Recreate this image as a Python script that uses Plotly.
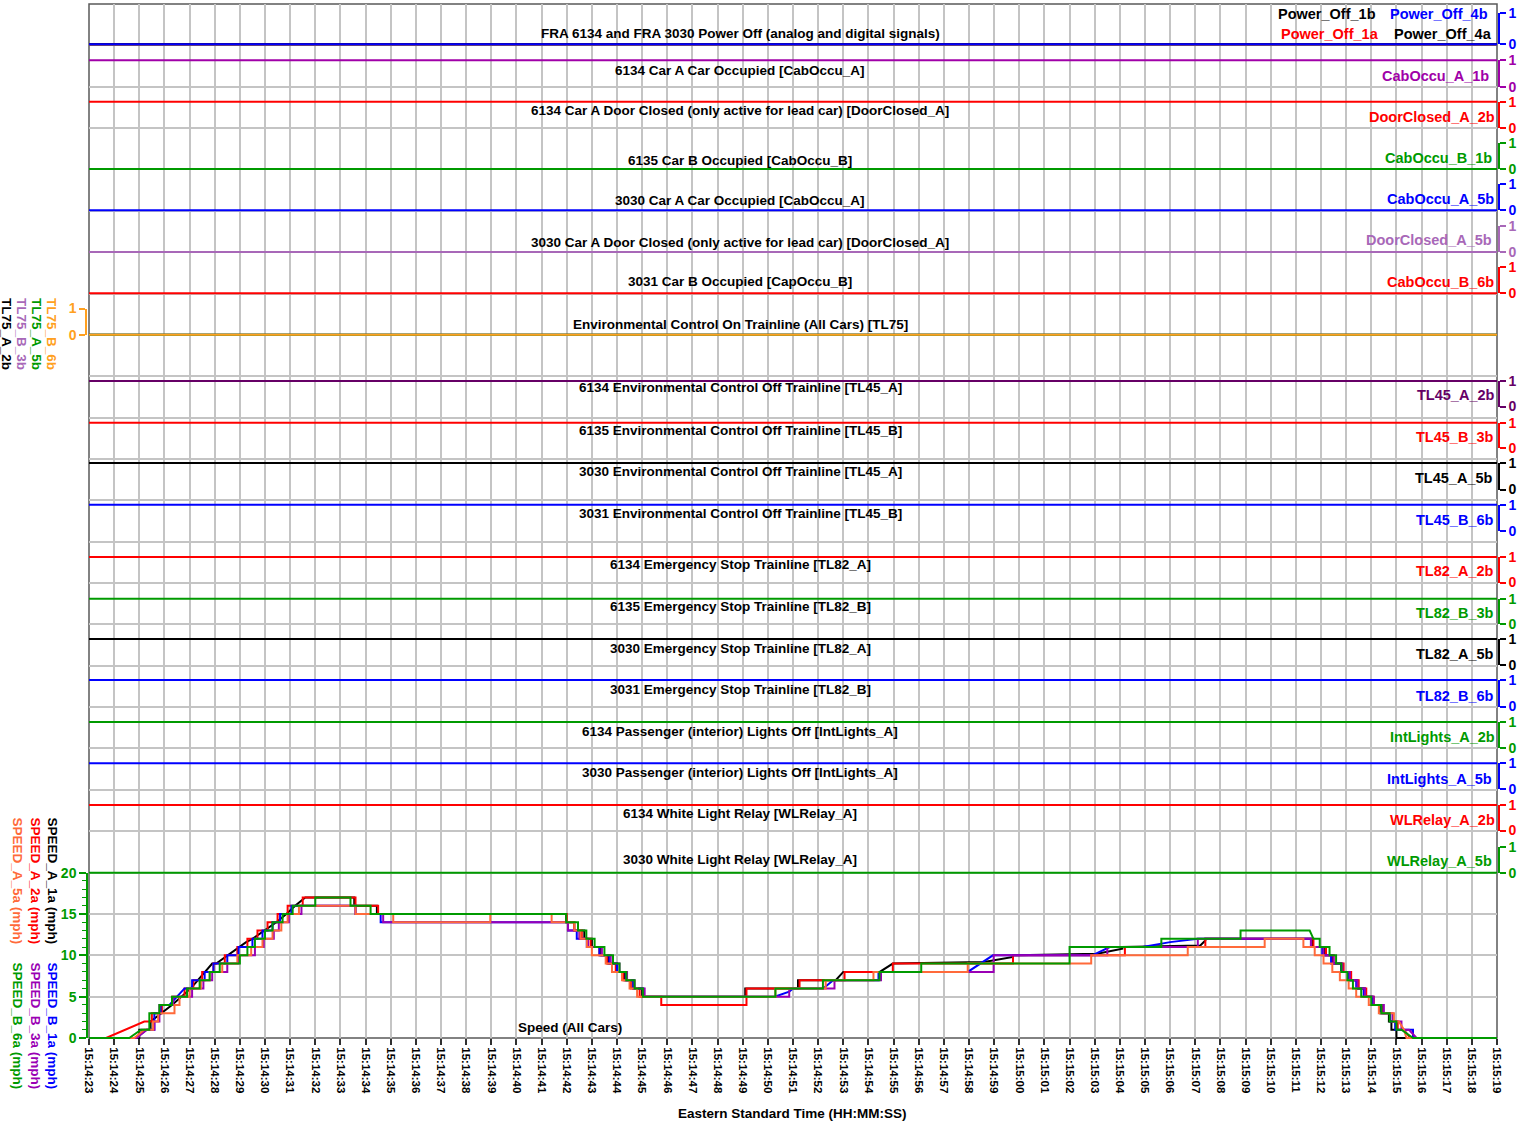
import pandas as pd
import plotly.graph_objects as go

# ---------------------------------------------------------------- time base
T_START = "2000-01-01 15:14:23"
WINDOW_S = [0, 56]  # 15:14:23 .. 15:15:19

# ---------------------------------------------------------- digital strips
strip_titles = [
    "FRA 6134 and FRA 3030 Power Off (analog and digital signals)",
    "6134 Car A Car Occupied [CabOccu_A]",
    "6134 Car A Door Closed (only active for lead car) [DoorClosed_A]",
    "6135 Car B Occupied [CabOccu_B]",
    "3030 Car A Car Occupied [CabOccu_A]",
    "3030 Car A Door Closed (only active for lead car) [DoorClosed_A]",
    "3031 Car B Occupied [CapOccu_B]",
    "Environmental Control On Trainline (All Cars) [TL75]",
    "6134 Environmental Control Off Trainline [TL45_A]",
    "6135 Environmental Control Off Trainline [TL45_B]",
    "3030 Environmental Control Off Trainline [TL45_A]",
    "3031 Environmental Control Off Trainline [TL45_B]",
    "6134 Emergency Stop Trainline [TL82_A]",
    "6135 Emergency Stop Trainline [TL82_B]",
    "3030 Emergency Stop Trainline [TL82_A]",
    "3031 Emergency Stop Trainline [TL82_B]",
    "6134 Passenger (interior) Lights Off [IntLights_A]",
    "3030 Passenger (interior) Lights Off [IntLights_A]",
    "6134 White Light Relay [WLRelay_A]",
    "3030 White Light Relay [WLRelay_A]",
]

strip_signals = [
    ["Power_Off_1b", "Power_Off_1a", "Power_Off_4a", "Power_Off_4b"],
    ["CabOccu_A_1b"],
    ["DoorClosed_A_2b"],
    ["CabOccu_B_1b"],
    ["CabOccu_A_5b"],
    ["DoorClosed_A_5b"],
    ["CabOccu_B_6b"],
    ["TL75_A_2b", "TL75_B_3b", "TL75_A_5b", "TL75_B_6b"],
    ["TL45_A_2b"],
    ["TL45_B_3b"],
    ["TL45_A_5b"],
    ["TL45_B_6b"],
    ["TL82_A_2b"],
    ["TL82_B_3b"],
    ["TL82_A_5b"],
    ["TL82_B_6b"],
    ["IntLights_A_2b"],
    ["IntLights_A_5b"],
    ["WLRelay_A_2b"],
    ["WLRelay_A_5b"],
]

strip_states = [
    [0, 0, 0, 0], [1], [1], [0], [0], [0], [0], [0, 0, 0, 0],
    [1], [1], [1], [1], [1], [1], [1], [1], [1], [1], [1], [0],
]

# ------------------------------------------------------- speed (seconds, mph)
speed_A_1a = [
    (0, 0), (2.0, 0), (2.0, 1), (2.45, 1), (2.45, 2), (2.9, 3), (3.3, 4), (4.05, 6),
    (4.9, 9), (5.06, 9), (6.25, 11.6), (6.5, 12), (7.45, 14), (7.85, 15), (8.2, 16),
    (8.6, 17), (10.55, 17), (10.55, 16), (11.45, 16), (11.45, 15), (18.98, 15),
    (18.98, 14), (19.3, 14), (19.3, 13), (19.7, 13), (19.7, 12), (20.0, 12), (20.0, 11),
    (20.35, 11), (20.35, 10), (20.65, 10), (20.65, 9), (21.0, 9), (21.0, 8), (21.3, 8),
    (21.3, 7), (21.65, 7), (21.65, 6), (22.0, 6), (22.0, 5), (26.1, 5), (26.1, 6),
    (28.2, 6), (28.2, 7), (29.7, 7), (30.0, 8), (31.45, 8), (31.97, 9), (35.6, 9.2),
    (36.75, 9.8), (36.75, 10), (40.1, 10.2), (41.1, 10.8), (41.1, 11), (44.2, 11.2),
    (44.4, 11.8), (44.4, 12), (48.65, 12), (48.65, 11), (49.15, 11), (49.15, 10),
    (49.45, 10), (49.45, 9), (49.8, 9), (49.8, 8), (50.15, 8), (50.15, 7), (50.45, 7),
    (50.45, 6), (50.75, 6), (50.75, 5), (51.05, 5), (51.05, 4), (51.35, 4), (51.35, 3),
    (51.7, 3), (51.7, 2), (51.8, 2), (51.8, 1), (52.0, 1), (52.0, 0), (56, 0),
]

speed_A_2a = [
    (0, 0), (0.68, 0), (2.2, 2), (2.5, 2), (2.5, 3), (2.9, 3), (2.9, 4), (3.3, 4),
    (3.3, 5), (3.8, 5), (3.8, 6), (4.15, 6), (4.15, 7), (4.5, 7), (4.5, 8), (4.95, 8),
    (4.95, 9), (5.4, 9), (5.4, 10), (5.9, 10), (5.9, 11), (6.3, 11), (6.3, 12), (6.7, 12),
    (6.7, 13), (7.1, 13), (7.1, 14), (7.5, 14), (7.5, 15), (7.9, 15), (7.9, 16), (8.5, 16),
    (8.5, 17), (10.6, 17), (10.6, 16), (11.5, 16), (11.5, 15), (19.0, 15), (19.0, 14),
    (19.3, 14), (19.3, 13), (19.6, 13), (19.6, 12), (19.95, 12), (19.95, 11), (20.3, 11),
    (20.3, 10), (20.6, 10), (20.6, 9), (20.95, 9), (20.95, 8), (21.25, 8), (21.25, 7),
    (21.55, 7), (21.55, 6), (21.9, 6), (21.9, 5), (22.76, 5), (22.76, 4), (26.15, 4),
    (26.15, 6), (28.26, 6), (28.26, 7), (30.05, 7), (30.05, 8), (31.97, 8), (31.97, 9),
    (36.75, 9), (36.75, 10), (41.2, 10), (41.2, 11), (44.4, 11), (44.4, 12), (48.7, 12),
    (48.7, 11), (49.2, 11), (49.2, 10), (49.5, 10), (49.5, 9), (49.9, 9), (49.9, 8),
    (50.2, 8), (50.2, 7), (50.5, 7), (50.5, 6), (50.8, 6), (50.8, 5), (51.1, 5), (51.1, 4),
    (51.45, 4), (51.45, 3), (51.75, 3), (51.75, 2), (52.05, 2), (52.05, 1), (52.3, 1),
    (52.55, 0), (56, 0),
]

speed_A_5a = [
    (0, 0), (1.8, 0), (2.2, 1), (2.55, 1), (2.55, 2), (2.75, 2), (2.75, 3), (3.4, 3),
    (3.4, 4), (3.6, 4), (3.6, 5), (4.0, 5), (4.0, 6), (4.45, 6), (4.45, 7), (4.8, 7),
    (4.8, 8), (5.3, 8), (5.3, 9), (5.9, 9), (5.9, 10), (6.45, 10), (6.45, 11), (6.9, 11),
    (6.9, 12), (7.3, 12), (7.3, 13), (7.65, 13), (7.65, 14), (7.9, 14), (7.9, 15),
    (8.35, 15), (8.35, 16), (10.6, 16), (10.6, 15), (12.1, 15), (12.1, 14), (15.96, 14),
    (15.96, 15), (18.4, 15), (18.4, 14), (19.3, 14), (19.3, 13), (19.55, 13), (19.55, 12),
    (19.8, 12), (19.8, 11), (20.0, 11), (20.0, 10), (20.55, 10), (20.55, 9), (20.8, 9),
    (20.8, 8), (21.2, 8), (21.2, 7), (21.5, 7), (21.5, 6), (21.8, 6), (21.8, 5), (27.3, 5),
    (27.3, 6), (29.3, 6), (29.3, 7), (31.2, 7), (31.2, 8), (34.95, 8), (34.95, 9),
    (39.86, 9), (39.86, 10), (43.7, 10), (43.7, 11), (46.76, 11), (46.76, 12), (48.3, 12),
    (48.3, 11), (48.75, 11), (48.75, 10), (49.1, 10), (49.1, 9), (49.45, 9), (49.45, 8),
    (49.75, 8), (49.75, 7), (50.1, 7), (50.1, 6), (50.4, 6), (50.4, 5), (50.9, 5),
    (50.9, 4), (51.3, 4), (51.3, 3), (51.9, 3), (51.9, 2), (52.1, 2), (52.3, 1),
    (52.4, 0), (56, 0),
]

speed_B_1a = [
    (0, 0), (1.85, 0), (2.3, 1), (2.6, 1), (2.6, 3), (2.85, 3), (2.85, 4), (3.2, 4),
    (3.5, 5), (3.8, 6), (4.1, 6), (4.1, 7), (4.6, 7), (4.6, 8), (4.95, 8), (4.95, 9),
    (5.5, 9), (5.5, 10), (5.95, 10), (5.95, 11), (6.5, 11), (6.5, 12), (6.9, 12),
    (6.9, 13), (7.3, 13), (7.3, 14), (7.6, 14), (7.6, 15), (8.05, 15), (8.05, 16),
    (10.6, 16), (10.6, 15), (11.6, 15), (11.6, 14), (19.05, 14), (19.05, 13), (19.4, 13),
    (19.4, 12), (19.8, 12), (19.8, 11), (20.3, 11), (20.3, 10), (20.7, 10), (20.7, 9),
    (21.0, 9), (21.0, 8), (21.35, 8), (21.35, 7), (21.65, 7), (21.65, 6), (22.05, 6),
    (22.05, 5), (27.27, 5), (27.85, 5.6), (28.0, 6), (29.2, 6), (29.6, 7), (31.4, 7),
    (31.4, 8), (34.95, 8), (35.95, 10), (39.9, 10), (40.6, 11), (41.9, 11), (43.0, 11.6),
    (44.1, 12), (48.6, 12), (48.6, 11), (49.05, 11), (49.05, 10), (49.4, 10), (49.4, 9),
    (49.8, 9), (49.8, 8), (50.1, 8), (50.1, 7), (50.4, 7), (50.4, 6), (50.7, 6),
    (50.7, 5), (51.05, 5), (51.05, 4), (51.4, 4), (51.4, 3), (51.75, 3), (51.75, 2),
    (51.95, 2), (51.95, 1), (52.66, 1), (52.66, 0), (56, 0),
]

speed_B_3a = [
    (0, 0), (1.9, 0), (2.3, 1), (2.6, 1), (2.6, 2), (2.8, 2), (2.8, 4), (3.35, 4),
    (3.35, 5), (4.1, 5), (4.1, 6), (4.55, 6), (4.55, 7), (4.9, 7), (4.9, 8), (5.5, 8),
    (5.5, 9), (5.95, 9), (5.95, 10), (6.6, 10), (6.6, 11), (6.95, 11), (6.95, 12),
    (7.35, 12), (7.35, 13), (7.55, 13), (7.55, 14), (7.95, 14), (7.95, 15), (8.45, 15),
    (8.45, 16), (10.6, 16), (10.6, 15), (11.7, 15), (11.7, 14), (19.05, 14), (19.05, 13),
    (19.5, 13), (19.5, 12), (19.85, 12), (19.85, 11), (20.4, 11), (20.4, 10), (20.75, 10),
    (20.75, 9), (21.1, 9), (21.1, 8), (21.4, 8), (21.4, 7), (21.7, 7), (21.7, 6),
    (22.1, 6), (22.1, 5), (27.85, 5), (27.85, 6), (29.65, 6), (29.65, 7), (31.5, 7),
    (31.5, 8), (35.98, 8), (35.98, 10), (40.5, 10), (40.5, 11),
    (44.1, 11), (44.1, 12), (48.6, 12), (48.6, 11), (49.1, 11), (49.1, 10), (49.5, 10),
    (49.5, 9), (49.85, 9), (49.85, 8), (50.15, 8), (50.15, 7), (50.45, 7), (50.45, 6),
    (50.75, 6), (50.75, 5), (51.1, 5), (51.1, 4), (51.5, 4), (51.5, 3), (51.85, 3),
    (51.85, 2), (52.2, 2), (52.2, 1), (52.5, 1), (52.8, 0), (56, 0),
]

speed_B_6a = [
    (0, 0), (1.6, 0), (2.07, 1), (2.4, 1), (2.4, 3), (2.8, 3), (2.8, 4), (3.3, 4),
    (3.3, 5), (3.9, 5), (3.9, 6), (4.4, 6), (4.4, 7), (4.8, 7), (4.8, 8), (5.2, 8),
    (5.2, 9), (6.0, 9), (6.0, 10), (6.3, 10), (6.3, 11), (6.6, 11), (6.6, 12), (7.0, 12),
    (7.0, 13), (7.3, 13), (7.3, 14), (7.7, 14), (7.7, 15), (8.1, 15), (8.1, 16), (9.0, 16),
    (9.0, 17), (10.4, 17), (10.4, 16), (11.2, 16), (11.2, 15), (18.98, 15), (18.98, 14),
    (19.45, 14), (19.45, 13), (19.78, 13), (19.78, 12), (20.11, 12), (20.11, 11),
    (20.5, 11), (20.5, 10), (20.84, 10), (20.84, 9), (21.1, 9), (21.1, 8), (21.37, 8),
    (21.37, 7), (21.7, 7), (21.7, 6), (22.03, 6), (22.03, 5), (27.3, 5), (27.3, 6),
    (29.19, 6), (29.19, 7), (31.44, 7), (31.44, 8), (33.1, 8), (33.1, 9), (39.0, 9),
    (39.0, 11), (42.65, 11), (42.65, 12), (45.8, 12), (45.8, 13), (48.55, 13), (48.7, 12),
    (48.95, 12), (48.95, 11), (49.34, 11), (49.34, 10), (49.6, 10), (49.6, 9), (49.81, 9),
    (49.81, 8), (50.05, 8), (50.05, 7), (50.27, 7), (50.27, 6), (50.6, 6), (50.6, 5),
    (51.0, 5), (51.0, 4), (51.4, 4), (51.4, 3), (51.73, 3), (51.73, 2), (52.0, 2),
    (52.0, 1), (52.2, 1), (52.66, 0), (56, 0),
]

# drawing order, bottom to top
speed_names = ["SPEED_A_1a (mph)", "SPEED_A_2a (mph)", "SPEED_B_1a (mph)",
               "SPEED_B_3a (mph)", "SPEED_A_5a (mph)", "SPEED_B_6a (mph)"]
speed_series = [speed_A_1a, speed_A_2a, speed_B_1a, speed_B_3a, speed_A_5a, speed_B_6a]

# ------------------------------------------------------------------ styling
FONT = "Arial, 'Liberation Sans', sans-serif"
GRID = "#c4c4c4"
FRAME = "#5a5a5a"
BLACK, RED, BLUE = "#000000", "#ff0000", "#0000ff"
GREEN, PURPLE, LPURPLE = "#009a00", "#a000a8", "#a868b8"
DPURPLE, ORANGE, CORAL, SPURPLE = "#660066", "#ffa020", "#ff6a3a", "#9a00b4"

signal_colors = {
    "Power_Off_1b": BLACK, "Power_Off_1a": RED, "Power_Off_4a": BLACK,
    "Power_Off_4b": BLUE, "CabOccu_A_1b": PURPLE, "DoorClosed_A_2b": RED,
    "CabOccu_B_1b": GREEN, "CabOccu_A_5b": BLUE, "DoorClosed_A_5b": LPURPLE,
    "CabOccu_B_6b": RED, "TL75_A_2b": BLACK, "TL75_B_3b": LPURPLE,
    "TL75_A_5b": GREEN, "TL75_B_6b": ORANGE, "TL45_A_2b": DPURPLE,
    "TL45_B_3b": RED, "TL45_A_5b": BLACK, "TL45_B_6b": BLUE, "TL82_A_2b": RED,
    "TL82_B_3b": GREEN, "TL82_A_5b": BLACK, "TL82_B_6b": BLUE,
    "IntLights_A_2b": GREEN, "IntLights_A_5b": BLUE, "WLRelay_A_2b": RED,
    "WLRelay_A_5b": GREEN,
}
strip_axis_colors = [BLUE, PURPLE, RED, GREEN, BLUE, LPURPLE, RED, ORANGE,
                     DPURPLE, RED, BLACK, BLUE, RED, GREEN, BLACK, BLUE,
                     GREEN, BLUE, RED, GREEN]
speed_colors = {
    "SPEED_A_1a (mph)": BLACK, "SPEED_A_2a (mph)": RED, "SPEED_A_5a (mph)": CORAL,
    "SPEED_B_1a (mph)": BLUE, "SPEED_B_3a (mph)": SPURPLE, "SPEED_B_6a (mph)": GREEN,
}

# page geometry (pixels)
W, H = 1522, 1121
ML, MR, MT, MB = 89, 25, 0, 76
PW, PH = W - ML - MR, H - MT - MB
GRID_TOP, GRID_BOTTOM = 4, 1038

# pixel rows of value 0 / value 1 for every strip
strip_rows = [
    (44.3, 13.0), (86.7, 60.3), (128.1, 101.7), (169.0, 143.0), (210.3, 184.0),
    (252.0, 226.0), (293.3, 267.0), (334.7, 308.5), (406.5, 381.0), (448.0, 422.7),
    (489.5, 463.0), (531.0, 504.7), (582.5, 557.0), (624.0, 598.7), (665.0, 639.0),
    (706.5, 680.0), (748.0, 722.0), (789.0, 763.3), (830.5, 805.0), (872.7, 847.0),
]
title_rows = [34, 70, 110, 160, 201, 242, 281, 325, 387, 430, 471, 513, 564, 606,
              648, 689, 731, 772, 813, 859]
TITLE_X = 740

# right-hand channel names: (right edge px, centre y px)
right_labels = {
    "Power_Off_1b": (1378, 14), "Power_Off_4b": (1490, 14),
    "Power_Off_1a": (1381, 34), "Power_Off_4a": (1494, 34),
    "CabOccu_A_1b": (1491, 76), "DoorClosed_A_2b": (1497, 117),
    "CabOccu_B_1b": (1494, 158), "CabOccu_A_5b": (1496, 199),
    "DoorClosed_A_5b": (1494, 240), "CabOccu_B_6b": (1496, 282),
    "TL45_A_2b": (1497, 395), "TL45_B_3b": (1496, 437), "TL45_A_5b": (1495, 478),
    "TL45_B_6b": (1496, 520), "TL82_A_2b": (1496, 571), "TL82_B_3b": (1496, 613),
    "TL82_A_5b": (1496, 654), "TL82_B_6b": (1496, 696),
    "IntLights_A_2b": (1497, 737), "IntLights_A_5b": (1494, 779),
    "WLRelay_A_2b": (1497, 820), "WLRelay_A_5b": (1494, 861),
}
# left-hand vertical names: (centre x px, top y px)
left_labels = {
    "TL75_A_2b": (7, 296), "TL75_B_3b": (22, 296), "TL75_A_5b": (37, 296),
    "TL75_B_6b": (52, 296),
    "SPEED_A_5a (mph)": (17, 815), "SPEED_A_2a (mph)": (35, 815),
    "SPEED_A_1a (mph)": (52, 815),
    "SPEED_B_6a (mph)": (17, 960), "SPEED_B_3a (mph)": (35, 960),
    "SPEED_B_1a (mph)": (52, 960),
}
left_label_colors = {
    "TL75_A_2b": BLACK, "TL75_B_3b": LPURPLE, "TL75_A_5b": GREEN, "TL75_B_6b": ORANGE,
    **speed_colors,
}


def px(p):
    return (p - ML) / PW


def py(p):
    return (PH + MT - p) / PH


def to_time(secs):
    t0 = pd.Timestamp(T_START)
    return [(t0 + pd.to_timedelta(s, unit="s")).isoformat(sep=" ") for s in secs]


def bold(size, color):
    return dict(family=FONT, size=size, color=color, weight="bold")


def tick_axis(color, side, domain, rng, vals, shift, ticklen=6, minor=None):
    ax = dict(
        domain=domain, range=rng, anchor="free", position=1 if side == "right" else 0,
        side=side, shift=shift, showline=True, linecolor=color, linewidth=1.5,
        ticks="outside", ticklen=ticklen, tickwidth=1.5, tickcolor=color,
        tickmode="array", tickvals=vals, ticktext=[str(v) for v in vals],
        tickfont=bold(14, color), showgrid=False, zeroline=False, fixedrange=True,
        automargin=False,
    )
    if minor:
        ax["minor"] = minor
    return ax


def data_axis(domain, rng):
    return dict(domain=domain, range=rng, visible=False, anchor="x2",
                fixedrange=True, zeroline=False, showgrid=False, automargin=False)


fig = go.Figure()
layout_axes = {}
annotations = []
t_window = to_time(WINDOW_S)

# background grid subplot (x / y)
layout_axes["xaxis"] = dict(
    type="date", range=t_window, domain=[0, 1], anchor="y",
    tickformat="%H:%M:%S", tick0=t_window[0], dtick=1000, tickangle=90,
    ticks="outside", ticklen=6, tickwidth=1.5, tickcolor="#303030",
    tickfont=bold(11.5, BLACK),
    showgrid=True, gridcolor=GRID, gridwidth=1.5, showline=False,
    zeroline=False, layer="below traces", fixedrange=True, automargin=False,
)
layout_axes["xaxis2"] = dict(type="date", range=t_window, domain=[0, 1],
                             anchor="y", visible=False, fixedrange=True,
                             automargin=False)
layout_axes["yaxis"] = dict(
    domain=[py(GRID_BOTTOM), py(GRID_TOP)], range=[0, 25], tick0=0, dtick=1,
    showgrid=True, gridcolor=GRID, gridwidth=1.5, showticklabels=False,
    ticks="", zeroline=False, showline=False, fixedrange=True, automargin=False,
)
fig.add_trace(go.Scatter(x=[], y=[], xaxis="x", yaxis="y", showlegend=False,
                         hoverinfo="skip"))

PAD = 0.25
n_axis = 2
for i, (title, names, states) in enumerate(zip(strip_titles, strip_signals, strip_states)):
    y0, y1 = strip_rows[i]
    span = y0 - y1
    tick_id, data_id = n_axis, n_axis + 1
    n_axis += 2
    color = strip_axis_colors[i]
    side, shift = ("left", -3) if i == 7 else ("right", 2)
    layout_axes[f"yaxis{tick_id}"] = tick_axis(
        color, side, [py(y0), py(y1)], [0, 1], [0, 1], shift)
    layout_axes[f"yaxis{data_id}"] = data_axis(
        [py(y0 + PAD * span), py(y1 - PAD * span)], [-PAD, 1 + PAD])
    fig.add_trace(go.Scatter(x=[], y=[], xaxis="x2", yaxis=f"y{tick_id}",
                             showlegend=False, hoverinfo="skip"))
    for name, state in zip(names, states):
        fig.add_trace(go.Scatter(
            x=t_window, y=[state, state], mode="lines", name=name,
            line=dict(color=signal_colors[name], width=2),
            xaxis="x2", yaxis=f"y{data_id}", showlegend=False, hoverinfo="skip"))
        if name in right_labels:
            rx, ry = right_labels[name]
            annotations.append(dict(
                text=name, x=px(rx), y=py(ry), xref="paper", yref="paper",
                xanchor="right", yanchor="middle", showarrow=False,
                font=bold(14.5, signal_colors[name])))
    annotations.append(dict(
        text=title, x=px(TITLE_X), y=py(title_rows[i]), xref="paper", yref="paper",
        xanchor="center", yanchor="middle", showarrow=False, font=bold(13.5, BLACK)))

# speed panel
SP0, SP20 = 1038.0, 872.7
sp_pad = 0.5
sp_px = (SP0 - SP20) / 20
tick_id, data_id = n_axis, n_axis + 1
layout_axes[f"yaxis{tick_id}"] = tick_axis(
    GREEN, "left", [py(SP0), py(SP20)], [0, 20], [0, 5, 10, 15, 20], -2, ticklen=7,
    minor=dict(dtick=1, tick0=0, ticks="outside", ticklen=4, tickcolor=GREEN,
               tickwidth=1.2, showgrid=False))
layout_axes[f"yaxis{data_id}"] = data_axis(
    [py(SP0 + sp_pad * sp_px), py(SP20 - sp_pad * sp_px)], [-sp_pad, 20 + sp_pad])
fig.add_trace(go.Scatter(x=[], y=[], xaxis="x2", yaxis=f"y{tick_id}",
                         showlegend=False, hoverinfo="skip"))
for name, series in zip(speed_names, speed_series):
    secs = [p[0] for p in series]
    mph = [p[1] for p in series]
    fig.add_trace(go.Scatter(
        x=to_time(secs), y=mph, mode="lines", name=name,
        line=dict(color=speed_colors[name], width=2), xaxis="x2", yaxis=f"y{data_id}",
        showlegend=False, hoverinfo="skip"))

annotations.append(dict(
    text="Speed (All Cars)", x=px(570), y=py(1027), xref="paper", yref="paper",
    xanchor="center", yanchor="middle", showarrow=False, font=bold(13.5, BLACK)))

for name, (lx, ly) in left_labels.items():
    annotations.append(dict(
        text=name, x=px(lx), y=py(ly), xref="paper", yref="paper", textangle=90,
        xanchor="center", yanchor="top", showarrow=False,
        font=bold(13.5, left_label_colors[name])))

annotations.append(dict(
    text="Eastern Standard Time (HH:MM:SS)", x=px(792), y=py(1113),
    xref="paper", yref="paper", xanchor="center", yanchor="middle",
    showarrow=False, font=bold(13.5, BLACK)))

fig.update_layout(
    template="none",
    width=W, height=H, margin=dict(l=ML, r=MR, t=MT, b=MB, pad=0, autoexpand=False),
    paper_bgcolor="white", plot_bgcolor="rgba(0,0,0,0)", showlegend=False,
    hovermode=False, annotations=annotations,
    shapes=[dict(type="rect", xref="paper", yref="y domain", x0=0, x1=1, y0=0, y1=1,
                 line=dict(color=FRAME, width=1.5), layer="between")],
    **layout_axes,
)

fig.write_html("out.html", config={"displayModeBar": False})
